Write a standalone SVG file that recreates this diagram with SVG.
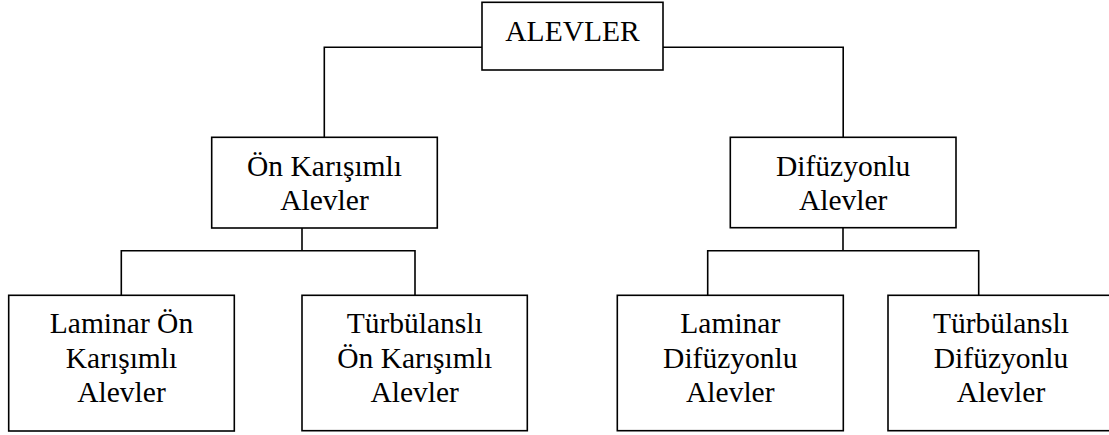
<svg xmlns="http://www.w3.org/2000/svg" width="1109" height="435" viewBox="0 0 1109 435">
<style>
.box{fill:#fff;stroke:#000;stroke-width:1.6}
.conn{fill:none;stroke:#000;stroke-width:1.6}
text{font-family:"Liberation Serif","Times New Roman",serif;font-size:29.5px;fill:#000;text-anchor:middle}
</style>
<rect width="1109" height="435" fill="#fff"/>
<g id="connectors">
<polyline class="conn" points="482,47.3 324.3,47.3 324.3,137.3"/>
<polyline class="conn" points="663,47.3 843.2,47.3 843.2,137.3"/>
<polyline class="conn" points="302,228 302,250.7"/>
<polyline class="conn" points="121.3,295.3 121.3,250.7 415,250.7 415,295.3"/>
<polyline class="conn" points="843,228 843,250.7"/>
<polyline class="conn" points="707.7,295.3 707.7,250.7 978.7,250.7 978.7,295.3"/>
</g>
<g id="n-alevler">
<rect class="box" x="482" y="2.3" width="181" height="67.7"/>
<text x="572.5" y="41">ALEVLER</text>
</g>
<g id="n-onkarisimli">
<rect class="box" x="211.7" y="137.3" width="225.6" height="90.7"/>
<text x="324.5" y="175.5">Ön Karışımlı</text>
<text x="324.5" y="210">Alevler</text>
</g>
<g id="n-difuzyonlu">
<rect class="box" x="730.3" y="137.3" width="225.7" height="90.4"/>
<text x="843.2" y="175.5">Difüzyonlu</text>
<text x="843.2" y="210">Alevler</text>
</g>
<g id="n-laminar-on">
<rect class="box" x="8.7" y="295.3" width="225.6" height="135.7"/>
<text x="121.5" y="333.3">Laminar Ön</text>
<text x="121.5" y="367.5">Karışımlı</text>
<text x="121.5" y="401.7">Alevler</text>
</g>
<g id="n-turbulansli-on">
<rect class="box" x="302" y="295.3" width="225.3" height="135.4"/>
<text x="414.7" y="333.3">Türbülanslı</text>
<text x="414.7" y="367.5">Ön Karışımlı</text>
<text x="414.7" y="401.7">Alevler</text>
</g>
<g id="n-laminar-dif">
<rect class="box" x="617.3" y="295.3" width="226" height="135.4"/>
<text x="730.3" y="333.3">Laminar</text>
<text x="730.3" y="367.5">Difüzyonlu</text>
<text x="730.3" y="401.7">Alevler</text>
</g>
<g id="n-turbulansli-dif">
<rect class="box" x="888" y="295.3" width="226" height="135.4"/>
<text x="1001" y="333.3">Türbülanslı</text>
<text x="1001" y="367.5">Difüzyonlu</text>
<text x="1001" y="401.7">Alevler</text>
</g>
</svg>
